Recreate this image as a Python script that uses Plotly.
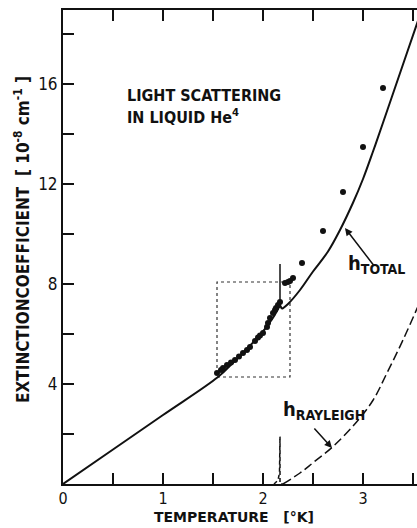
import plotly.graph_objects as go

# ---- data ----
total_lo_T = [0.0, 0.5, 1.0, 1.55, 1.7, 1.85, 2.0, 2.1, 2.17]
total_lo_h = [0.0, 1.38, 2.76, 4.28, 4.85, 5.45, 6.1, 6.65, 7.15]
total_hi_T = [2.19, 2.25, 2.37, 2.5, 2.65, 2.77, 2.9, 3.0, 3.1, 3.2, 3.32, 3.44, 3.56]
total_hi_h = [7.0, 7.2, 7.76, 8.5, 9.3, 10.16, 11.25, 12.2, 13.3, 14.45, 15.85, 17.25, 18.65]

lambda_T = [2.17, 2.17]
lambda_h = [7.1, 8.8]

rayl_spike_T = [2.11, 2.15, 2.165, 2.17, 2.17, 2.2]
rayl_spike_h = [0.0, 0.15, 0.45, 1.9, 0.0, 0.0]
rayl_T = [2.2, 2.37, 2.5, 2.7, 2.94, 3.1, 3.24, 3.4, 3.56]
rayl_h = [0.0, 0.44, 0.85, 1.5, 2.5, 3.35, 4.44, 5.76, 7.2]

big_T = [2.39, 2.6, 2.8, 3.0, 3.2]
big_h = [8.84, 10.12, 11.68, 13.48, 15.84]

dense_T = [1.54, 1.58, 1.60, 1.64, 1.68, 1.72, 1.76, 1.80, 1.84, 1.87, 1.92, 1.95, 1.97, 2.00,
           2.04, 2.05, 2.07, 2.10, 2.12, 2.13, 2.15, 2.17, 2.22, 2.25, 2.27, 2.30]
dense_h = [4.44, 4.56, 4.64, 4.76, 4.86, 4.96, 5.10, 5.24, 5.36, 5.48, 5.72, 5.86, 5.94, 6.04,
           6.28, 6.44, 6.64, 6.84, 6.96, 7.04, 7.16, 7.28, 8.04, 8.08, 8.12, 8.24]

box_T = [1.54, 2.27]
box_h = [4.28, 8.08]

x_ticks = [0, 1, 2, 3]
x_labels = ["0", "1", "2", "3"]
x_minor_step = 0.5
y_ticks = [4, 8, 12, 16]
y_labels = ["4", "8", "12", "16"]
y_minor_step = 2

FONT = "DejaVu Sans Condensed, sans-serif"
WIDE = "DejaVu Sans, sans-serif"
BLACK = "#111111"

fig = go.Figure()

fig.add_trace(go.Scatter(
    x=[box_T[0], box_T[1], box_T[1], box_T[0], box_T[0]],
    y=[box_h[0], box_h[0], box_h[1], box_h[1], box_h[0]],
    mode="lines", line=dict(color="#333333", width=1.2, dash="dot"),
    hoverinfo="skip", showlegend=False))

fig.add_trace(go.Scatter(x=total_lo_T, y=total_lo_h, mode="lines",
                         line=dict(color=BLACK, width=2, shape="spline"), showlegend=False))
fig.add_trace(go.Scatter(x=total_hi_T, y=total_hi_h, mode="lines",
                         line=dict(color=BLACK, width=2, shape="spline"), showlegend=False))
fig.add_trace(go.Scatter(x=[total_lo_T[-1], total_hi_T[0]], y=[total_lo_h[-1], total_hi_h[0]],
                         mode="lines", line=dict(color=BLACK, width=2), showlegend=False))
fig.add_trace(go.Scatter(x=lambda_T, y=lambda_h, mode="lines",
                         line=dict(color=BLACK, width=1.5), showlegend=False))
fig.add_trace(go.Scatter(x=rayl_spike_T, y=rayl_spike_h, mode="lines",
                         line=dict(color=BLACK, width=1.5, dash="4px,3px"), showlegend=False))
fig.add_trace(go.Scatter(x=rayl_T, y=rayl_h, mode="lines",
                         line=dict(color=BLACK, width=1.5, dash="9px,4px", shape="spline"),
                         showlegend=False))
fig.add_trace(go.Scatter(x=big_T, y=big_h, mode="markers",
                         marker=dict(color=BLACK, size=6), showlegend=False))
fig.add_trace(go.Scatter(x=dense_T, y=dense_h, mode="markers",
                         marker=dict(color=BLACK, size=6), showlegend=False))

axis_common = dict(showline=True, linecolor=BLACK, linewidth=2, ticks="inside",
                   ticklen=11, tickwidth=2, tickcolor=BLACK, showgrid=False,
                   zeroline=False)

fig.update_xaxes(range=[0, 3.54], tickmode="array", tickvals=x_ticks, ticktext=x_labels,
                 mirror="ticks", tickfont=dict(family=FONT, size=16, color=BLACK),
                 ticklabelstandoff=-1,
                 minor=dict(dtick=x_minor_step, tick0=0, ticks="inside", ticklen=11,
                            tickwidth=2, tickcolor=BLACK, showgrid=False),
                 **axis_common)
fig.update_yaxes(range=[0, 18.96], tickmode="array", tickvals=y_ticks, ticktext=y_labels,
                 tickfont=dict(family=FONT, size=17, color=BLACK),
                 minor=dict(dtick=y_minor_step, tick0=0, ticks="inside", ticklen=11,
                            tickwidth=2, tickcolor=BLACK, showgrid=False),
                 **axis_common)

ann = []
ann.append(dict(x=0.62, y=15.56, xref="x", yref="y", text="<b>LIGHT SCATTERING</b>",
                showarrow=False, xanchor="left", yanchor="middle",
                font=dict(family=FONT, size=16, color=BLACK)))
ann.append(dict(x=0.62, y=14.7, xref="x", yref="y", text="<b>IN LIQUID He<sup>4</sup></b>",
                showarrow=False, xanchor="left", yanchor="middle",
                font=dict(family=FONT, size=16, color=BLACK)))
ann.append(dict(x=2.83, y=8.8, xref="x", yref="y", text="<b>h<sub>TOTAL</sub></b>",
                showarrow=False, xanchor="left", yanchor="middle",
                font=dict(family=FONT, size=20, color=BLACK)))
ann.append(dict(x=2.82, y=10.24, ax=3.12, ay=8.68, xref="x", yref="y", axref="x", ayref="y",
                text="", showarrow=True, arrowhead=2, arrowsize=1, arrowwidth=1.5,
                arrowcolor=BLACK))
ann.append(dict(x=2.18, y=2.95, xref="x", yref="y", text="<b>h<sub>RAYLEIGH</sub></b>",
                showarrow=False, xanchor="left", yanchor="middle",
                font=dict(family=FONT, size=20, color=BLACK)))
ann.append(dict(x=2.69, y=1.44, ax=2.5, ay=2.28, xref="x", yref="y", axref="x", ayref="y",
                text="", showarrow=True, arrowhead=2, arrowsize=1, arrowwidth=1.5,
                arrowcolor=BLACK))
ann.append(dict(x=-0.116, y=0.517, xref="paper", yref="paper", textangle=-90,
                text="<b>EXTINCTIONCOEFFICIENT  [ 10<sup>-8</sup> cm<sup>-1</sup> ]</b>",
                showarrow=False, xanchor="center", yanchor="middle",
                font=dict(family=FONT, size=17, color=BLACK)))
ann.append(dict(x=0.25, y=-0.0905, xref="paper", yref="paper",
                text="<b>TEMPERATURE   [°K]</b>",
                showarrow=False, xanchor="left", yanchor="bottom",
                font=dict(family=WIDE, size=14, color=BLACK)))

fig.update_layout(width=417, height=528, margin=dict(l=63, r=0, t=10, b=44),
                  paper_bgcolor="white", plot_bgcolor="white", annotations=ann)

fig.write_html("out.html", config={"displayModeBar": False},
               post_script="document.body.style.margin='0';")
